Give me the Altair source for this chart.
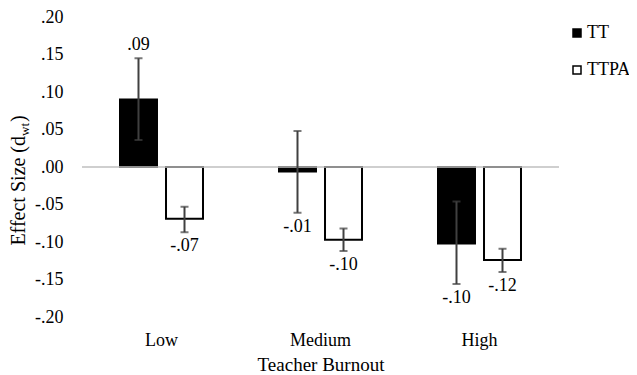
import altair as alt
import pandas as pd

categories = ["Low", "Medium", "High"]
groups = ["TT", "TTPA"]

tt_values = [0.090, -0.006, -0.102]
tt_lo = [0.036, -0.061, -0.156]
tt_hi = [0.145, 0.048, -0.046]
tt_labels = [".09", "-.01", "-.10"]

ttpa_values = [-0.069, -0.097, -0.124]
ttpa_lo = [-0.087, -0.112, -0.140]
ttpa_hi = [-0.053, -0.082, -0.109]
ttpa_labels = ["-.07", "-.10", "-.12"]

y_ticks = [-0.20, -0.15, -0.10, -0.05, 0.00, 0.05, 0.10, 0.15, 0.20]
x_title = "Teacher Burnout"
y_title_parts = ["Effect Size (d", "wt", ")"]

FONT = "Liberation Serif"

rows = []
for i, c in enumerate(categories):
    rows.append(dict(cat=c, grp="TT", v=tt_values[i], lo=tt_lo[i], hi=tt_hi[i], lab=tt_labels[i]))
    rows.append(dict(cat=c, grp="TTPA", v=ttpa_values[i], lo=ttpa_lo[i], hi=ttpa_hi[i], lab=ttpa_labels[i]))
df = pd.DataFrame(rows)
df["anchor"] = [h if v >= 0 else l for v, h, l in zip(df["v"], df["hi"], df["lo"])]

base = alt.Chart(df).encode(
    x=alt.X("cat:N", sort=categories,
            scale=alt.Scale(paddingInner=0, paddingOuter=0),
            axis=alt.Axis(title=x_title, labelAngle=0, domain=False, ticks=False,
                          labelFont=FONT, labelFontSize=18, labelColor="black",
                          titleFont=FONT, titleFontSize=19, titleFontWeight="normal",
                          titleColor="black", labelPadding=14, titlePadding=6)),
    xOffset=alt.XOffset("grp:N", sort=groups,
                        scale=alt.Scale(paddingInner=0.196, paddingOuter=0.826)),
)

yscale = alt.Scale(domain=[-0.2, 0.2], nice=False)
yaxis = alt.Axis(title=None, grid=False, domain=False, ticks=False,
                 values=y_ticks, labelPadding=19, labelOverlap=False,
                 labelExpr="replace(replace(format(datum.value, '.2f'), '\u2212', '-'), '0.', '.')",
                 labelFont=FONT, labelFontSize=18, labelColor="black")


def Y(field):
    return alt.Y(field, scale=yscale, axis=yaxis)


bars = base.mark_bar(stroke="black", strokeWidth=2).encode(
    y=Y("v:Q"),
    fill=alt.Fill("grp:N", scale=alt.Scale(domain=groups, range=["#000000", "#ffffff"]),
                  legend=alt.Legend(title=None, orient="none", legendX=486, legendY=7,
                                    symbolType="square", symbolSize=64,
                                    symbolStrokeColor="black", symbolStrokeWidth=1.5,
                                    labelFont=FONT, labelFontSize=18, labelColor="black",
                                    rowPadding=19, labelOffset=1, padding=0)),
)

zero = alt.Chart(pd.DataFrame({"z": [0]})).mark_rule(color="#bfbfbf", strokeWidth=1.5).encode(
    y=Y("z:Q")
)

err = base.mark_rule(color="#404040", strokeWidth=2).encode(y=Y("lo:Q"), y2="hi:Q")
cap_lo = base.mark_tick(color="#404040", thickness=2, size=8, orient="horizontal").encode(y=Y("lo:Q"))
cap_hi = base.mark_tick(color="#404040", thickness=2, size=8, orient="horizontal").encode(y=Y("hi:Q"))

lab_pos = base.mark_text(font=FONT, fontSize=18, baseline="middle", dy=-13, color="black").encode(
    y=Y("anchor:Q"), text="lab:N").transform_filter("datum.v >= 0")
lab_neg = base.mark_text(font=FONT, fontSize=18, baseline="middle", dy=14, color="black").encode(
    y=Y("anchor:Q"), text="lab:N").transform_filter("datum.v < 0")

one = pd.DataFrame({"a": [0]})
yt1 = alt.Chart(one).mark_text(font=FONT, fontSize=20, angle=270, align="right",
                               baseline="alphabetic", color="black").encode(
    x=alt.value(-57), y=alt.value(119), text=alt.value(y_title_parts[0]))
yt2 = alt.Chart(one).mark_text(font=FONT, fontSize=13, angle=270, align="left",
                               baseline="alphabetic", color="black").encode(
    x=alt.value(-53), y=alt.value(119), text=alt.value(y_title_parts[1]))
yt3 = alt.Chart(one).mark_text(font=FONT, fontSize=20, angle=270, align="left",
                               baseline="alphabetic", color="black").encode(
    x=alt.value(-57), y=alt.value(105), text=alt.value(y_title_parts[2]))

chart = alt.layer(bars, zero, err, cap_lo, cap_hi, lab_pos, lab_neg, yt1, yt2, yt3).properties(
    width=477, height=300,
    padding={"left": 74, "top": 9, "right": 70, "bottom": 56},
    autosize=alt.AutoSizeParams(type="none"),
).configure_view(stroke=None)

chart.save("out.html", embed_options={"renderer": "svg", "actions": False})
